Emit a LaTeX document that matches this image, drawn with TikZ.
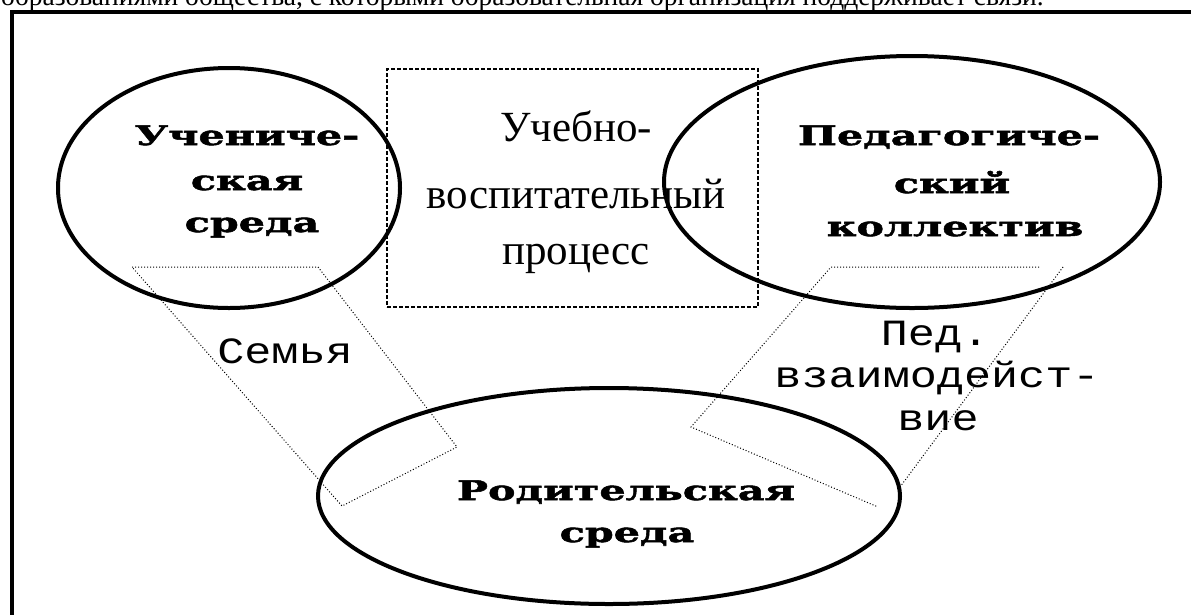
\documentclass[tikz,border=0pt]{standalone}
\usepackage{fontspec}
\setmainfont{Liberation Serif}
\newfontfamily\heavyfont{DejaVu Serif}[FakeStretch=1.53, BoldFeatures={FakeBold=2}]
\newfontfamily\lightfont{Liberation Mono}[FakeStretch=1.22]
\usetikzlibrary{shapes.geometric}
\begin{document}
\begin{tikzpicture}[x=1pt,y=-1pt,
  ell/.style={draw, ellipse, line width=4pt, inner sep=0pt},
  heavy/.style={font=\heavyfont\bfseries\fontsize{27}{30}\selectfont, anchor=base, inner sep=0pt},
  light/.style={font=\lightfont\fontsize{37}{40}\selectfont, anchor=base, inner sep=0pt},
  serif/.style={font=\fontsize{43}{50}\selectfont, anchor=base, inner sep=0pt},
  topline/.style={font=\fontsize{27.5}{30}\selectfont, anchor=base west, inner sep=0pt},
  frameline/.style={line width=3.5pt},
  dashbox/.style={draw, dash pattern=on 4pt off 2pt, line width=1.4pt},
  dotline/.style={dotted, line width=1pt}]
\useasboundingbox (0,0) rectangle (1191,614);
% cut-off text line at the top
\node[topline] (toptext) at (1,5) {образованиями общества, с которыми образовательная организация поддерживает связи.};
% frame
\coordinate (fbot) at (12,640);
\coordinate (fcorner) at (12,12);
\coordinate (fright) at (1220,12);
\draw[frameline] (fbot) -- (fcorner) -- (fright);
% dashed box
\node[dashbox, minimum width=371pt, minimum height=238pt, inner sep=0pt] (box) at (572.5,188) {};
\node[serif] (b1) at (576,141) {Учебно-};
\node[serif] (b2) at (576,208) {воспитательный};
\node[serif] (b3) at (576,264) {процесс};
% left dotted shape
\coordinate (l1) at (132,267);
\coordinate (l2) at (318,267);
\coordinate (l3) at (457,447);
\coordinate (l4) at (342,506);
\draw[dotline] (l1) -- (l2) -- (l3) -- (l4) -- cycle;
\node[light] (fam) at (285,363) {Семья};
% right dotted shape
\coordinate (r1) at (1039,267);
\coordinate (r2) at (831,267);
\coordinate (r3) at (691,427);
\coordinate (r4) at (878,507);
\coordinate (r5) at (1063,267);
\coordinate (r6) at (900,487);
\draw[dotline] (r1) -- (r2) -- (r3) -- (r4);
\draw[dotline] (r5) -- (r6);
\node[light] (p1) at (935,345) {Пед.};
\node[light] (p2) at (937,387) {взаимодейст-};
\node[light] (p3) at (938,430) {вие};
% ellipses
\node[ell, minimum width=342pt, minimum height=240pt] (student) at (229,188) {};
\node[ell, minimum width=496pt, minimum height=252pt] (teacher) at (912,182) {};
\node[ell, minimum width=582pt, minimum height=216pt] (parent) at (609,496) {};
% bold labels
\node[heavy] (s1) at (247,145) {Учениче-};
\node[heavy] (s2) at (247,190) {ская};
\node[heavy] (s3) at (252,232) {среда};
\node[heavy] (t1) at (949,145) {Педагогиче-};
\node[heavy] (t2) at (952,193) {ский};
\node[heavy] (t3) at (955,236) {коллектив};
\node[heavy] (q1) at (626,500) {Родительская};
\node[heavy] (q2) at (627,542) {среда};
\end{tikzpicture}
\end{document}
